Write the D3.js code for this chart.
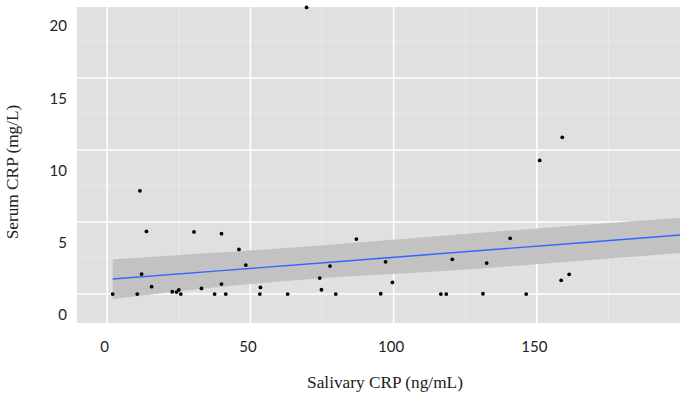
<!DOCTYPE html>
<html>
<head>
<meta charset="utf-8">
<script src="https://cdn.jsdelivr.net/npm/d3@7"></script>
<style>
	body { margin: 0; background: #fff; }
	.tick-label { font-family: Lato, "Open Sans", sans-serif; font-size: 15px; fill: #222; }
	.axis-title { font-family: "Liberation Serif", "DejaVu Serif", serif; font-size: 17.3px; fill: #222; }
</style>
</head>
<body>
<div id="chart"></div>
<script>
// punkty pomiarowe
const salivary = [1.9, 10.5, 11.4, 12.0, 13.7, 15.5, 22.7, 24.2, 25.0, 25.7, 30.3, 32.9, 37.5, 39.9, 39.9, 41.4,
	46.0, 48.4, 53.5, 53.3, 63.0, 69.6, 74.2, 74.8, 77.8, 79.8, 87.0, 95.5, 97.2, 99.6, 116.5, 118.4, 120.5,
	131.2, 132.5, 140.7, 146.3, 151.0, 158.5, 158.9, 161.3];
const serum = [0, 0, 7.17, 1.39, 4.35, 0.51, 0.16, 0.14, 0.28, 0, 4.31, 0.39, 0, 4.19, 0.69, 0,
	3.10, 2.01, 0.46, 0, 0, 19.9, 1.11, 0.30, 1.94, 0, 3.82, 0.02, 2.24, 0.81, 0, 0, 2.41,
	0.02, 2.15, 3.87, 0, 9.28, 0.95, 10.88, 1.37];

// linia regresji i przedzial ufnosci
const fitX = [1.9, 40, 78, 117, 160, 200];
const fitY = [1.04, 1.63, 2.21, 2.82, 3.48, 4.10];
const fitHi = [2.41, 2.90, 3.42, 4.05, 4.70, 5.30];
const fitLo = [-0.35, 0.50, 1.15, 1.60, 2.22, 2.85];

// osie
const xTicks = [0, 50, 100, 150];
const xMinor = [25, 75, 125, 175];
const yTicks = [0, 5, 10, 15, 20];
const yGrid = [0, 5, 10, 15];
const yMinor = [2.5, 7.5, 12.5, 17.5];

const width = 686, height = 398;
const panel = { left: 77, right: 680, top: 7, bottom: 323 };

const svg = d3.select("#chart")
	.append("svg")
	.attr("width", width)
	.attr("height", height);

const x = d3.scaleLinear()
	.domain([-10.55, 200])
	.range([panel.left, panel.right]);
const y = d3.scaleLinear()
	.domain([-2.01, 19.93])
	.range([panel.bottom, panel.top]);

svg.append("clipPath")
	.attr("id", "clip")
	.append("rect")
	.attr("x", panel.left)
	.attr("y", panel.top)
	.attr("width", panel.right - panel.left)
	.attr("height", panel.bottom - panel.top);

// tlo panelu
svg.append("rect")
	.attr("x", panel.left)
	.attr("y", panel.top)
	.attr("width", panel.right - panel.left)
	.attr("height", panel.bottom - panel.top)
	.attr("fill", "#e0e0e0");

// siatka
const grid = svg.append("g");
grid.selectAll(".xminor")
	.data(xMinor)
	.enter()
	.append("line")
	.attr("x1", d => x(d)).attr("x2", d => x(d))
	.attr("y1", panel.top).attr("y2", panel.bottom)
	.attr("stroke", "#ececec").attr("stroke-width", 0.8);
grid.selectAll(".yminor")
	.data(yMinor)
	.enter()
	.append("line")
	.attr("x1", panel.left).attr("x2", panel.right)
	.attr("y1", d => y(d)).attr("y2", d => y(d))
	.attr("stroke", "#ececec").attr("stroke-width", 0.8);
grid.selectAll(".xmajor")
	.data(xTicks)
	.enter()
	.append("line")
	.attr("x1", d => x(d)).attr("x2", d => x(d))
	.attr("y1", panel.top).attr("y2", panel.bottom)
	.attr("stroke", "#fff").attr("stroke-width", 1.6);
grid.selectAll(".ymajor")
	.data(yGrid)
	.enter()
	.append("line")
	.attr("x1", panel.left).attr("x2", panel.right)
	.attr("y1", d => y(d)).attr("y2", d => y(d))
	.attr("stroke", "#fff").attr("stroke-width", 1.6);

// przedzial ufnosci + linia
const band = fitX.map((d, i) => ({ x: d, y: fitY[i], lo: fitLo[i], hi: fitHi[i] }));
const smooth = svg.append("g").attr("clip-path", "url(#clip)");
smooth.append("path")
	.datum(band)
	.attr("d", d3.area().curve(d3.curveMonotoneX).x(d => x(d.x)).y0(d => y(d.lo)).y1(d => y(d.hi)))
	.attr("fill", "#c2c2c2");
smooth.append("path")
	.datum(band)
	.attr("d", d3.line().x(d => x(d.x)).y(d => y(d.y)))
	.attr("fill", "none")
	.attr("stroke", "#3366ff")
	.attr("stroke-width", 1.4);

// punkty
svg.append("g")
	.selectAll("circle")
	.data(salivary.map((d, i) => [d, serum[i]]))
	.enter()
	.append("circle")
	.attr("cx", d => x(d[0]))
	.attr("cy", d => y(d[1]))
	.attr("r", 1.9)
	.attr("fill", "#000");

// opisy osi (etykiety przesuniete tak jak w oryginale)
const xAxis = svg.append("g")
	.attr("transform", "translate(0," + panel.bottom + ")")
	.call(d3.axisBottom(x).tickValues(xTicks).tickSize(0).tickPadding(0));
xAxis.select(".domain").remove();
xAxis.selectAll("text")
	.attr("class", "tick-label")
	.attr("fill", null)
	.attr("dx", -3)
	.attr("dy", 29);
xAxis.attr("font-size", null).attr("font-family", null);

const yAxis = svg.append("g")
	.attr("transform", "translate(" + 67 + ",0)")
	.call(d3.axisLeft(y).tickValues(yTicks).tickSize(0).tickPadding(0));
yAxis.select(".domain").remove();
yAxis.selectAll("text")
	.attr("class", "tick-label")
	.attr("fill", null)
	.attr("dy", 25);
yAxis.attr("font-size", null).attr("font-family", null);

svg.append("text")
	.attr("class", "axis-title")
	.attr("x", 385)
	.attr("y", 388)
	.attr("text-anchor", "middle")
	.text("Salivary CRP (ng/mL)");
svg.append("text")
	.attr("class", "axis-title")
	.attr("transform", "translate(18,172) rotate(-90)")
	.attr("text-anchor", "middle")
	.text("Serum CRP (mg/L)");
</script>
</body>
</html>
